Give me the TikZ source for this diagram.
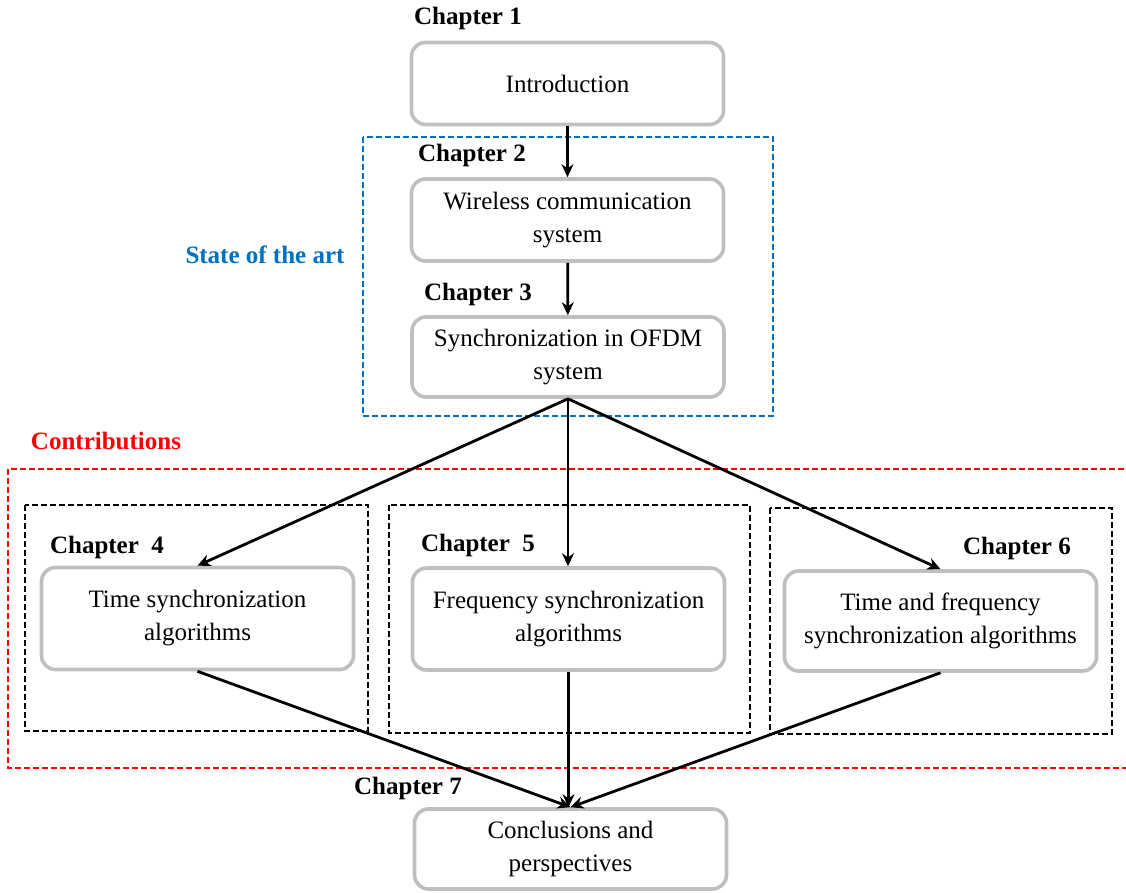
\documentclass[tikz,border=0pt]{standalone}
\usepackage{fontspec}
\setmainfont{Liberation Serif}
\usetikzlibrary{arrows.meta}
\definecolor{boxgray}{RGB}{191,191,191}
\definecolor{artblue}{RGB}{0,112,192}
\begin{document}
\begin{tikzpicture}[x=0.5pt,y=-0.5pt,
	box/.style={draw=boxgray,line width=1.8pt,rounded corners=7pt,minimum width=156pt,align=center,font=\fontsize{12.5}{16.5}\selectfont},
	chap/.style={font=\fontsize{12.5}{15}\selectfont\bfseries},
	arr/.style={line width=1.4pt,-{Stealth[length=6.5pt,width=6pt]}},
	grp/.style={line width=0.9pt,dash pattern=on 3pt off 1.5pt}]
	\useasboundingbox (0,0) rectangle (1126,893);
	% groups
	\draw[grp,artblue] (363,137) rectangle (773,416);
	\draw[grp,red] (8,469) rectangle (1140,768);
	\draw[grp] (25,505) rectangle (368,731);
	\draw[grp] (389,505) rectangle (750,733);
	\draw[grp] (770,508) rectangle (1112,734);
	\node[chap,text=artblue] (soa) at (265,255) {State of the art};
	\node[chap,text=red] (contr) at (106,441) {Contributions};
	% chapters
	\node[chap] (l1) at (468,18) {Chapter 1};
	\node[box,minimum height=41pt] (intro) at (567.5,83.5) {Introduction};
	\node[chap] (l2) at (472,155) {Chapter 2};
	\node[box,minimum height=41pt] (wcs) at (567.5,220) {Wireless communication\\system};
	\node[chap] (l3) at (478,294) {Chapter 3};
	\node[box,minimum height=40pt] (sync) at (568,357) {Synchronization in OFDM\\system};
	\node[chap] (l4) at (107,547) {Chapter\ \ 4};
	\node[box,minimum height=51pt] (tsync) at (197.5,618.5) {Time synchronization\\algorithms};
	\node[chap] (l5) at (478,545) {Chapter\ \ 5};
	\node[box,minimum height=51pt] (fsync) at (568.5,619) {Frequency synchronization\\algorithms};
	\node[chap] (l6) at (1017,548) {Chapter 6};
	\node[box,minimum height=50pt] (tfsync) at (940.5,621) {Time and frequency\\synchronization algorithms};
	\node[chap] (l7) at (408,788) {Chapter 7};
	\node[box,minimum height=40pt] (concl) at (570.5,849) {Conclusions and\\perspectives};
	% links
	\draw[arr] (intro) -- (wcs);
	\draw[arr] (wcs) -- (sync);
	\draw[arr] (sync.south) -- (tsync.north);
	\draw[arr] (sync.south) -- (sync.south |- fsync.north);
	\draw[arr] (sync.south) -- (tfsync.north);
	\draw[arr] (tsync.south) -- (concl.north);
	\draw[arr] (fsync.south) -- (fsync.south |- concl.north);
	\draw[arr] (tfsync.south) -- (concl.north);
\end{tikzpicture}
\end{document}
